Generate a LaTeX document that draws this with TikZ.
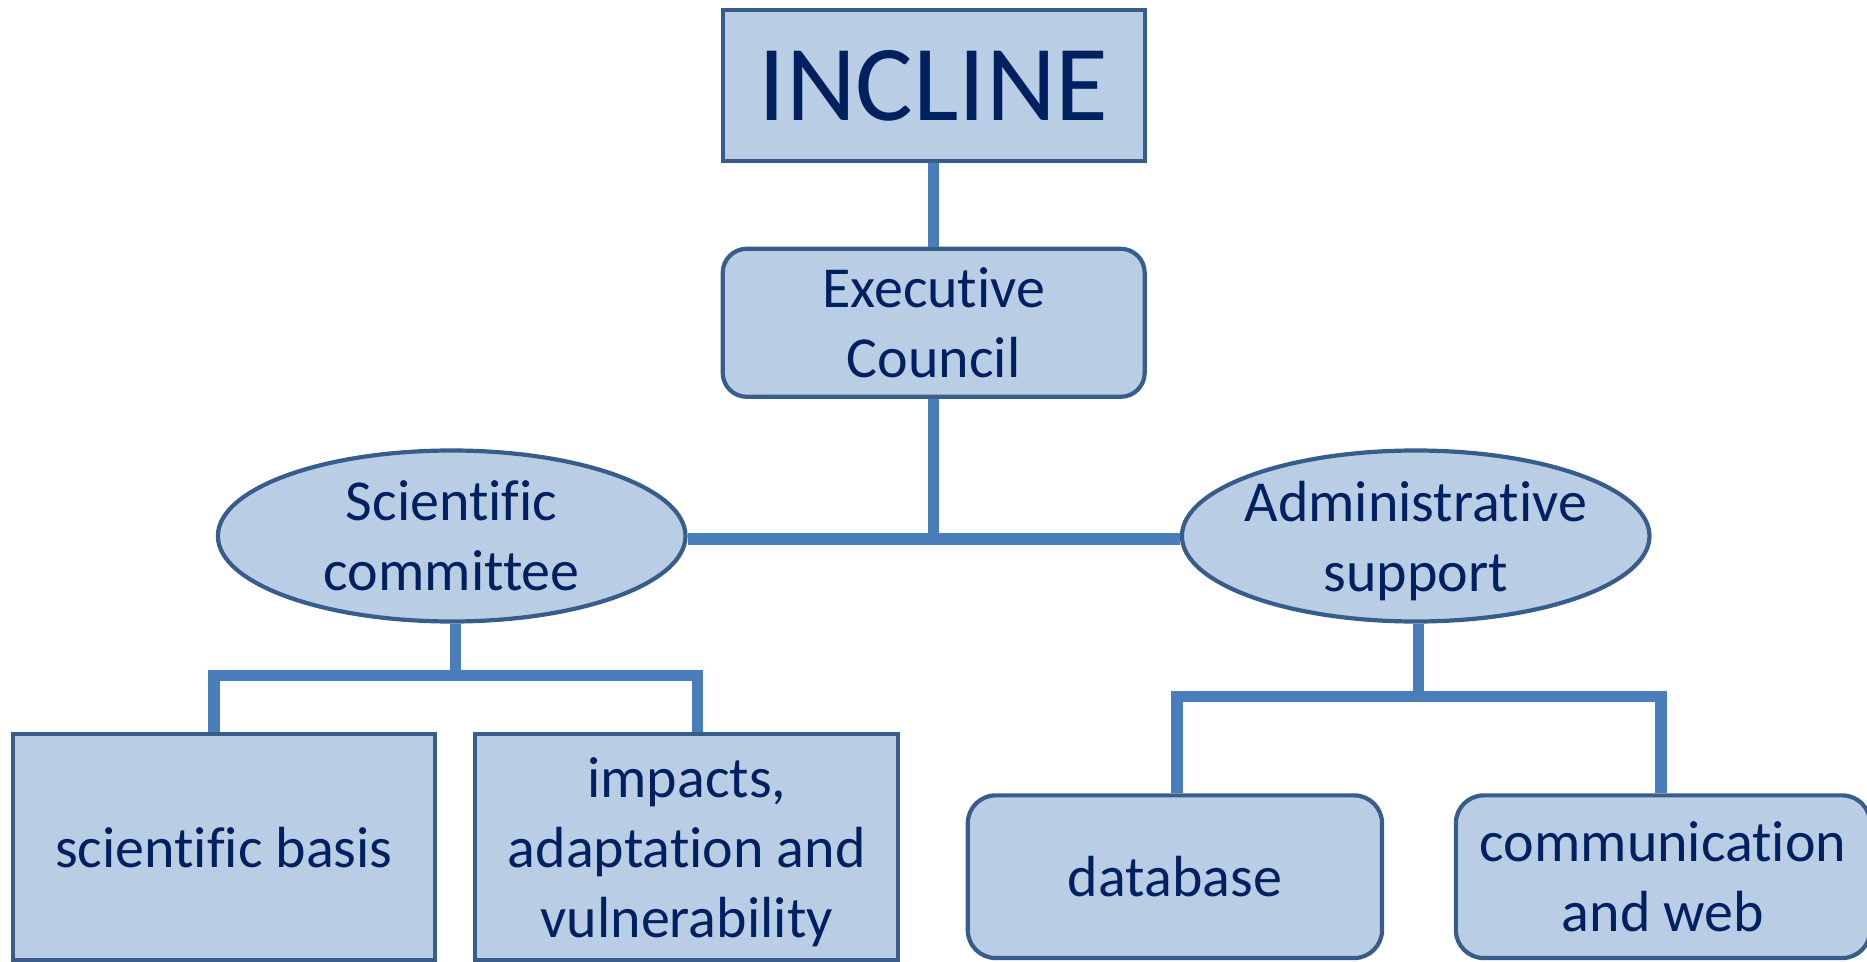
\documentclass[tikz,border=0pt]{standalone}
\usepackage{fontspec}
\setmainfont{Carlito}[Ligatures=NoCommon]
\usetikzlibrary{positioning}
\usetikzlibrary{shapes.geometric}
\definecolor{boxfill}{HTML}{B9CDE5}
\definecolor{boxline}{HTML}{385D8A}
\definecolor{linkblue}{HTML}{4A7EBB}
\definecolor{navy}{HTML}{002060}
\tikzset{node distance=118.55pt, % Centre to centre distance, changed per node where needed
unit/.style={ % Common look of every box
draw=boxline,
fill=boxfill,
line width=2.1pt,
text=navy,
align=center,
inner sep=0pt,
text depth=0pt,
font=\fontsize{29pt}{35pt}\selectfont},
headbox/.style={unit, % Top box with the big name
minimum width=211pt, minimum height=75.5pt,
font=\fontsize{54pt}{60pt}\selectfont},
roundbox/.style={unit, rounded corners=12pt},
oval/.style={unit, % Committees
ellipse, inner sep=-3pt,
minimum width=233.8pt, minimum height=85.5pt},
link/.style={ % Connector lines between boxes
draw=linkblue,
line width=5.75pt}}

\begin{document}
\begin{tikzpicture}
	\useasboundingbox (0,0) rectangle (933.5pt,-481pt);
	\node[headbox] (incline) at (466.85pt,-42.85pt) {INCLINE};
	\node[roundbox, minimum width=211pt, minimum height=74pt, below of=incline] (council) {Executive\\Council};
	\node[oval, node distance=106.6pt, below of=council, xshift=-241pt] (sci) {Scientific\\committee};
	\node[oval, node distance=106.6pt, below of=council, xshift=241pt] (adm) {Administrative\\support};
	\node[unit, minimum width=211.35pt, minimum height=113pt, node distance=155.65pt, below of=sci, xshift=-113.85pt] (basis) {scientific basis};
	\node[unit, minimum width=211.35pt, minimum height=113pt, node distance=231.35pt, right of=basis] (impacts) {impacts,\\adaptation and\\vulnerability};
	\node[roundbox, rounded corners=14pt, minimum width=207.15pt, minimum height=81.35pt, node distance=170.35pt, below of=adm, xshift=-120.4pt] (database) {database};
	\node[roundbox, rounded corners=14pt, minimum width=207.15pt, minimum height=81.35pt, node distance=244.05pt, right of=database] (comm) {communication\\and web};

	\draw[link] (incline) -- (council);
	\draw[link] (council.south) -- ([yshift=-1.5pt]council.south |- sci.east);
	\draw[link] ([yshift=-1.5pt]sci.east) -- ([yshift=-1.5pt]adm.west);

	\draw[link] ([xshift=2pt]sci.south) -- ++(0,-26pt) -| ([xshift=-5pt]basis.north);
	\draw[link] ([xshift=2pt]sci.south) -- ++(0,-26pt) -| ([xshift=5.5pt]impacts.north);

	\draw[link] ([xshift=1.5pt]adm.south) -- ++(0,-36.5pt) -| ([xshift=1pt]database.north);
	\draw[link] ([xshift=1.5pt]adm.south) -- ++(0,-36.5pt) -| ([xshift=-1pt]comm.north);
\end{tikzpicture}
\end{document}
